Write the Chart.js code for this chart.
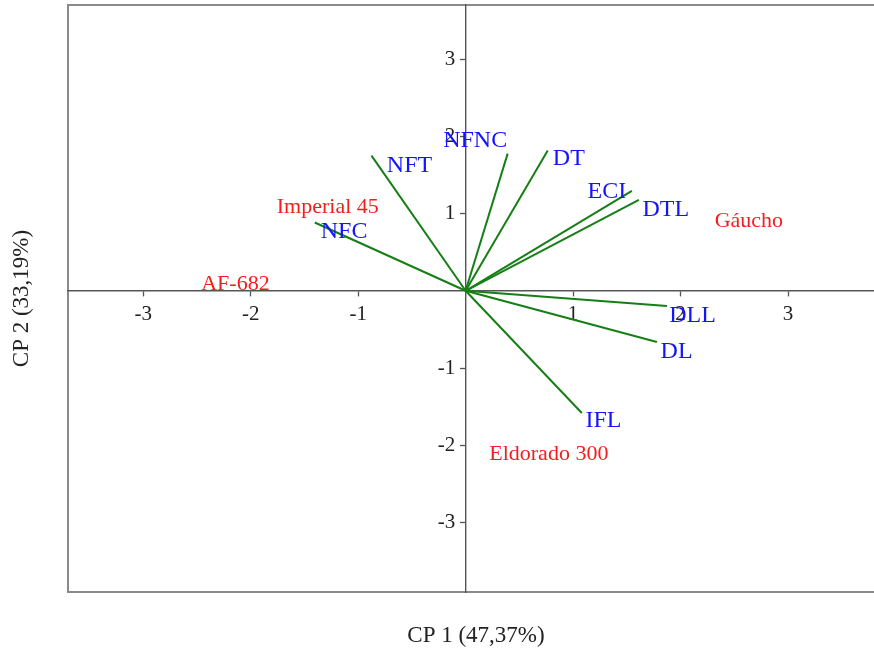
<!DOCTYPE html>
<html>
<head>
<meta charset="utf-8">
<script src="https://cdn.jsdelivr.net/npm/chart.js@4"></script>
<style>
  html, body { margin: 0; padding: 0; background: #fff; overflow: hidden; }
  #wrap { width: 874px; height: 652px; position: relative; }
</style>
</head>
<body>
<div id="wrap"><canvas id="c"></canvas></div>
<script>
// ---- data ----
const varNames  = ['NFT', 'NFC', 'NFNC', 'DT', 'ECI', 'DTL', 'DLL', 'DL', 'IFL'];
const varPC1    = [-0.876, -1.404, 0.391, 0.764, 1.547, 1.612, 1.873, 1.780, 1.081];
const varPC2    = [ 1.750,  0.884, 1.776, 1.815, 1.294, 1.177, -0.197, -0.664, -1.582];
const varLabelX = [-0.522, -1.131, 0.089, 0.960, 1.314, 1.862, 2.111, 1.963, 1.282];
const varLabelY = [ 1.634,  0.780, 1.950, 1.717, 1.298, 1.061, -0.307, -0.770, -1.665];

const genoNames = ['Imperial 45', 'AF-682', 'Gáucho', 'Eldorado 300'];
const genoPC1   = [-1.283, -2.142, 2.636, 0.774];
const genoPC2   = [ 1.093,  0.103, 0.909, -2.100];

const xTicks = [-3, -2, -1, 1, 2, 3];
const yTicks = [-3, -2, -1, 1, 2, 3];
const xTitle = 'CP 1 (47,37%)';
const yTitle = 'CP 2 (33,19%)';

// ---- datasets ----
const datasets = varNames.map((n, i) => ({
  label: n,
  data: [{x: 0, y: 0}, {x: varPC1[i], y: varPC2[i]}],
  showLine: true,
  borderColor: '#157f15',
  borderWidth: 2,
  pointRadius: 0,
  pointHoverRadius: 0
}));
datasets.push({
  label: 'varLabels',
  data: varLabelX.map((x, i) => ({x, y: varLabelY[i]})),
  showLine: false, pointRadius: 0, pointHoverRadius: 0
});
datasets.push({
  label: 'genotypes',
  data: genoPC1.map((x, i) => ({x, y: genoPC2[i]})),
  showLine: false, pointRadius: 0, pointHoverRadius: 0
});

const SERIF = '"Liberation Serif", "DejaVu Serif", serif';

const decor = {
  id: 'decor',
  beforeDraw(chart) {
    const {ctx, chartArea: a} = chart;
    ctx.save();
    ctx.strokeStyle = '#8a8a8a';
    ctx.lineWidth = 2;
    ctx.beginPath();
    ctx.moveTo(chart.width + 5, a.top);
    ctx.lineTo(a.left, a.top);
    ctx.lineTo(a.left, a.bottom);
    ctx.lineTo(chart.width + 5, a.bottom);
    ctx.stroke();
    ctx.restore();
  },
  afterDraw(chart) {
    const {ctx, chartArea: a} = chart;
    ctx.save();
    ctx.textAlign = 'center';
    ctx.textBaseline = 'middle';
    // variable labels
    const vm = chart.getDatasetMeta(varNames.length);
    ctx.fillStyle = '#1414ff';
    ctx.font = '24px ' + SERIF;
    vm.data.forEach((el, i) => ctx.fillText(varNames[i], el.x, el.y + 1));
    // genotype labels
    const gm = chart.getDatasetMeta(varNames.length + 1);
    ctx.fillStyle = '#f41c1c';
    ctx.font = '22px ' + SERIF;
    gm.data.forEach((el, i) => ctx.fillText(genoNames[i], el.x, el.y + 1));
    // axis titles
    ctx.fillStyle = '#222';
    ctx.font = '23px ' + SERIF;
    ctx.fillText(xTitle, (a.left + a.right) / 2 + 5, 636);
    ctx.translate(22, (a.top + a.bottom) / 2);
    ctx.rotate(-Math.PI / 2);
    ctx.fillText(yTitle, 0, 0);
    ctx.restore();
  }
};

function zeroX(s) { s.height = 0; s.paddingLeft = 0; s.paddingRight = 0; s.paddingTop = 0; s.paddingBottom = 0; }
function zeroY(s) { s.width = 0; s.paddingLeft = 0; s.paddingRight = 0; s.paddingTop = 0; s.paddingBottom = 0; }

new Chart(document.getElementById('c'), {
  type: 'scatter',
  data: { datasets },
  options: {
    responsive: true,
    maintainAspectRatio: false,
    animation: false,
    devicePixelRatio: 1,
    layout: { padding: { left: 68, top: 5, right: 0, bottom: 60 } },
    plugins: { legend: { display: false }, tooltip: { enabled: false }, title: { display: false } },
    scales: {
      x: {
        type: 'linear',
        min: -3.7, max: 3.8,
        position: { y: 0 },
        afterFit: zeroX,
        afterBuildTicks(s) { s.ticks = xTicks.map(v => ({value: v})); },
        grid: { drawOnChartArea: false, drawTicks: true, tickLength: 5, tickColor: '#555', tickWidth: 1.3 },
        border: { display: true, color: '#555', width: 1.4 },
        ticks: { color: '#222', font: { family: SERIF, size: 21 }, padding: 6, maxRotation: 0, autoSkip: false }
      },
      y: {
        type: 'linear',
        min: -3.9, max: 3.7,
        position: { x: 0 },
        afterFit: zeroY,
        afterBuildTicks(s) { s.ticks = yTicks.map(v => ({value: v})); },
        grid: { drawOnChartArea: false, drawTicks: true, tickLength: 5, tickColor: '#555', tickWidth: 1.3 },
        border: { display: true, color: '#555', width: 1.4 },
        ticks: {
          color: '#222', font: { family: SERIF, size: 21 }, padding: 4, autoSkip: false,
          callback: v => v + '\u2002'
        }
      }
    }
  },
  plugins: [decor]
});
</script>
</body>
</html>
